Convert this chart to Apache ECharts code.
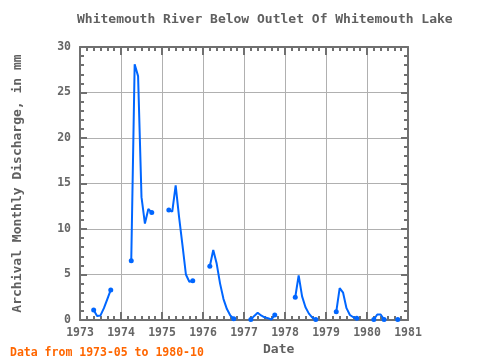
<!DOCTYPE html>
<html>
<head>
<meta charset="utf-8">
<script src="https://cdn.jsdelivr.net/npm/echarts@6/dist/echarts.min.js"></script>
<style>html,body{margin:0;padding:0;background:#fff;}#c{width:480px;height:360px;}</style>
</head>
<body>
<div id="c"></div>
<script>
// Monthly observations (YYYY-MM) and discharge values in mm
const months = [
  '1973-05','1973-06','1973-07','1973-08','1973-09','1973-10',
  '1974-04','1974-05','1974-06','1974-07','1974-08','1974-09','1974-10',
  '1975-03','1975-04','1975-05','1975-06','1975-07','1975-08','1975-09','1975-10',
  '1976-03','1976-04','1976-05','1976-06','1976-07','1976-08','1976-09','1976-10',
  '1977-03','1977-04','1977-05','1977-06','1977-07','1977-08','1977-09','1977-10',
  '1978-04','1978-05','1978-06','1978-07','1978-08','1978-09','1978-10',
  '1979-04','1979-05','1979-06','1979-07','1979-08','1979-09','1979-10',
  '1980-03','1980-04','1980-05','1980-06','1980-10'
];
const discharge = [
  1.1, 0.45, 0.5, 1.3, 2.3, 3.3,
  6.5, 28.1, 26.8, 13.5, 10.6, 12.2, 11.8,
  12.1, 11.9, 14.8, 11.3, 8.2, 5.0, 4.2, 4.3,
  5.9, 7.7, 6.2, 4.0, 2.3, 1.2, 0.5, 0.15,
  0.05, 0.45, 0.8, 0.5, 0.3, 0.2, 0.05, 0.55,
  2.5, 4.9, 2.6, 1.4, 0.7, 0.25, 0.05,
  0.9, 3.5, 3.0, 1.3, 0.55, 0.3, 0.2,
  0.05, 0.6, 0.6, 0.05, 0.05
];
const xTickYears = [1973, 1981];
const yRange = [0, 30];
const titleText = 'Whitemouth River Below Outlet Of Whitemouth Lake';
const yAxisTitle = 'Archival Monthly Discharge, in mm';
const xAxisTitle = 'Date';
const footerText = 'Data from 1973-05 to 1980-10';

// Build series: decimal-year x values, with nulls to break the line across gaps
function toIndex(m) { const p = m.split('-'); return (+p[0]) * 12 + (+p[1] - 1); }
const seriesData = [];
for (let i = 0; i < months.length; i++) {
  const idx = toIndex(months[i]);
  const prevGap = i === 0 || idx - toIndex(months[i - 1]) > 1;
  const nextGap = i === months.length - 1 || toIndex(months[i + 1]) - idx > 1;
  if (i > 0 && prevGap) seriesData.push({ value: [(idx - 1) / 12, null] });
  seriesData.push({ value: [idx / 12, discharge[i]], symbolSize: (prevGap || nextGap) ? 5 : 0 });
}

const font = 'DejaVu Sans Mono';
const axisColor = '#707070';
const labelColor = '#666666';

const chart = echarts.init(document.getElementById('c'), null, { renderer: 'canvas' });
const baseX = {
  type: 'value', min: xTickYears[0], max: xTickYears[1], interval: 1,
  axisLine: { show: true, onZero: false, lineStyle: { color: axisColor, width: 2 } },
  axisTick: { show: true, inside: true, length: 8, lineStyle: { color: axisColor, width: 2 } },
  minorTick: { show: true, splitNumber: 6, length: 4, lineStyle: { color: axisColor, width: 2 } }
};
const baseY = {
  type: 'value', min: yRange[0], max: yRange[1], interval: 5,
  axisLine: { show: true, onZero: false, lineStyle: { color: axisColor, width: 2 } },
  axisTick: { show: true, inside: true, length: 7, lineStyle: { color: axisColor, width: 2 } },
  minorTick: { show: true, splitNumber: 5, length: 4, lineStyle: { color: axisColor, width: 2 } }
};
chart.setOption({
  animation: false,
  backgroundColor: '#ffffff',
  title: [
    { text: titleText, left: 72, top: 8,
      textStyle: { fontFamily: font, fontSize: 13, fontWeight: 'bold', color: '#606060' } },
    { text: xAxisTitle, left: 258, top: 338,
      textStyle: { fontFamily: font, fontSize: 13, fontWeight: 'bold', color: '#606060' } },
    { text: footerText, left: 5, top: 342,
      textStyle: { fontFamily: font, fontSize: 11.5, fontWeight: 'bold', color: '#ff6600' } }
  ],
  grid: { left: 80, right: 72, top: 47, bottom: 40, containLabel: false },
  xAxis: [
    Object.assign({}, baseX, {
      position: 'bottom',
      axisLabel: { show: true, margin: 7, color: labelColor, fontFamily: font, fontSize: 11.5, fontWeight: 'bold',
        formatter: v => String(Math.round(v)) },
      splitLine: { show: true, lineStyle: { color: '#b0b0b0', width: 1 } }
    }),
    Object.assign({}, baseX, {
      position: 'top', axisLabel: { show: false }, splitLine: { show: false }
    })
  ],
  yAxis: [
    Object.assign({}, baseY, {
      position: 'left',
      name: yAxisTitle, nameLocation: 'middle', nameGap: 56, nameRotate: 90,
      nameTextStyle: { fontFamily: font, fontSize: 13, fontWeight: 'bold', color: '#606060' },
      axisLabel: { show: true, margin: 9, color: labelColor, fontFamily: font, fontSize: 11.5, fontWeight: 'bold' },
      splitLine: { show: true, lineStyle: { color: '#b0b0b0', width: 1 } }
    }),
    Object.assign({}, baseY, {
      position: 'right', axisLabel: { show: false }, splitLine: { show: false }
    })
  ],
  series: [{
    type: 'line',
    xAxisIndex: 0, yAxisIndex: 0,
    data: seriesData,
    connectNulls: false,
    showSymbol: true, showAllSymbol: true,
    symbol: 'circle',
    itemStyle: { color: '#0066ff' },
    lineStyle: { color: '#0066ff', width: 2 }
  }]
});
</script>
</body>
</html>
